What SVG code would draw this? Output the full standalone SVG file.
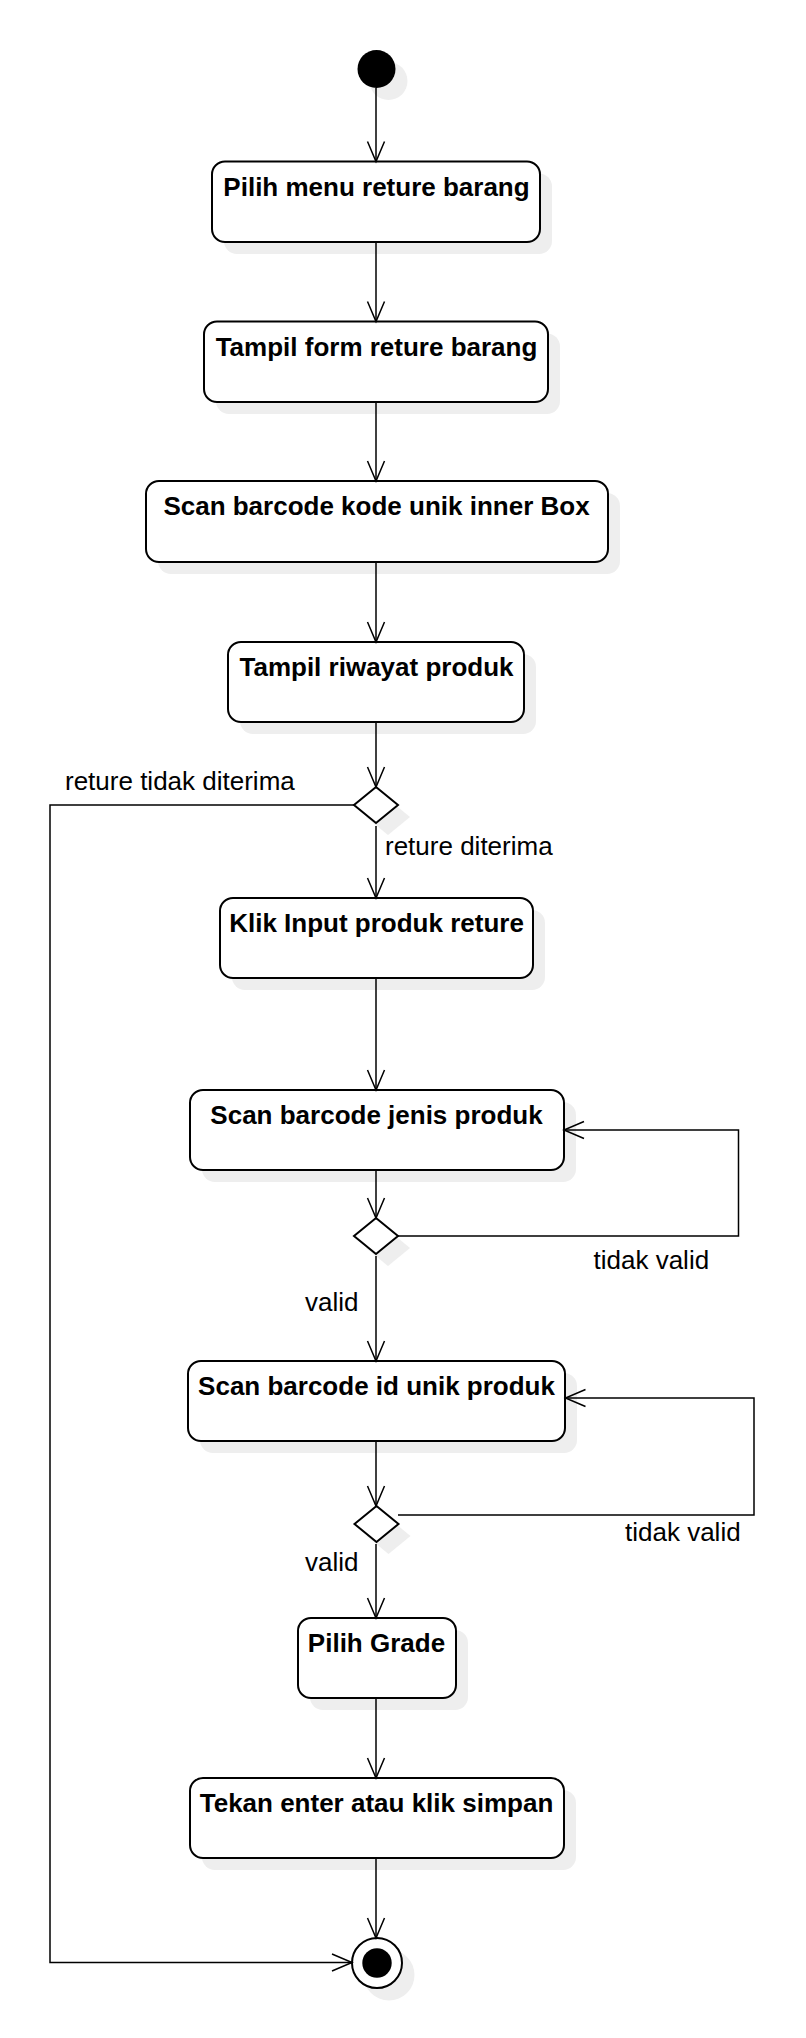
<svg xmlns="http://www.w3.org/2000/svg" width="806" height="2038" viewBox="0 0 806 2038">
<defs>
<style>
.bg{fill:#ffffff}
.sh{fill:#eeeeee;stroke:none}
.box{fill:#ffffff;stroke:#000000;stroke-width:2}
.dia{fill:#ffffff;stroke:#000000;stroke-width:2}
.lbl{font-family:"Liberation Sans",Arial,sans-serif;font-size:26px;font-weight:bold;fill:#000000;text-anchor:middle}
.elbl{font-family:"Liberation Sans",Arial,sans-serif;font-size:26px;fill:#000000}
.con{fill:none;stroke:#000000;stroke-width:1.5;marker-end:url(#arr)}
</style>
<marker id="arr" markerUnits="userSpaceOnUse" viewBox="-22 -11 24 22" refX="0" refY="0" markerWidth="24" markerHeight="22" orient="auto" overflow="visible">
<path d="M-20,-8.5 L0,0 L-20,8.5" fill="none" stroke="#000000" stroke-width="1.5"/>
</marker>
</defs>
<rect class="bg" x="0" y="0" width="806" height="2038"/>

<g id="start">
<circle class="sh" cx="388.5" cy="81" r="19"/>
<circle cx="376.5" cy="69" r="19" fill="#000000"/>
</g>

<g id="n1">
<rect class="sh" x="224" y="173.5" width="328" height="80.5" rx="13"/>
<rect class="box" x="212" y="161.5" width="328" height="80.5" rx="13"/>
<text class="lbl" x="376.5" y="195.5">Pilih menu reture barang</text>
</g>

<g id="n2">
<rect class="sh" x="216" y="333.5" width="344" height="80.5" rx="13"/>
<rect class="box" x="204" y="321.5" width="344" height="80.5" rx="13"/>
<text class="lbl" x="376.5" y="355.5">Tampil form reture barang</text>
</g>

<g id="n3">
<rect class="sh" x="158" y="493" width="462" height="81" rx="13"/>
<rect class="box" x="146" y="481" width="462" height="81" rx="13"/>
<text class="lbl" x="376.5" y="515">Scan barcode kode unik inner Box</text>
</g>

<g id="n4">
<rect class="sh" x="240" y="654" width="296" height="80" rx="13"/>
<rect class="box" x="228" y="642" width="296" height="80" rx="13"/>
<text class="lbl" x="376.5" y="676">Tampil riwayat produk</text>
</g>

<g id="d1">
<polygon class="sh" points="388,799 410,817 388,835 366,817"/>
<polygon class="dia" points="376,787 398,805 376,823 354,805"/>
</g>

<g id="n5">
<rect class="sh" x="232" y="910" width="313" height="80" rx="13"/>
<rect class="box" x="220" y="898" width="313" height="80" rx="13"/>
<text class="lbl" x="376.5" y="932">Klik Input produk reture</text>
</g>

<g id="n6">
<rect class="sh" x="202" y="1102" width="374" height="80" rx="13"/>
<rect class="box" x="190" y="1090" width="374" height="80" rx="13"/>
<text class="lbl" x="376.5" y="1124">Scan barcode jenis produk</text>
</g>

<g id="d2">
<polygon class="sh" points="388,1230 410,1248 388,1266 366,1248"/>
<polygon class="dia" points="376,1218 398,1236 376,1254 354,1236"/>
</g>

<g id="n7">
<rect class="sh" x="200" y="1373" width="377" height="80" rx="13"/>
<rect class="box" x="188" y="1361" width="377" height="80" rx="13"/>
<text class="lbl" x="376.5" y="1395">Scan barcode id unik produk</text>
</g>

<g id="d3">
<polygon class="sh" points="388.5,1518 410.5,1536 388.5,1554 366.5,1536"/>
<polygon class="dia" points="376.5,1506 398.5,1524 376.5,1542 354.5,1524"/>
</g>

<g id="n8">
<rect class="sh" x="310" y="1630" width="158" height="80" rx="13"/>
<rect class="box" x="298" y="1618" width="158" height="80" rx="13"/>
<text class="lbl" x="376.5" y="1652">Pilih Grade</text>
</g>

<g id="n9">
<rect class="sh" x="202" y="1790" width="374" height="80" rx="13"/>
<rect class="box" x="190" y="1778" width="374" height="80" rx="13"/>
<text class="lbl" x="376.5" y="1812">Tekan enter atau klik simpan</text>
</g>

<g id="end">
<circle class="sh" cx="389" cy="1975" r="25.5"/>
<circle cx="377" cy="1963" r="25" fill="#ffffff" stroke="#000000" stroke-width="2"/>
<circle cx="377" cy="1963" r="14.7" fill="#000000"/>
</g>

<g id="connectors">
<path class="con" d="M376,88 L376,161.5"/>
<path class="con" d="M376,242 L376,321.5"/>
<path class="con" d="M376,402 L376,481"/>
<path class="con" d="M376,562 L376,642"/>
<path class="con" d="M376,722 L376,787"/>
<path class="con" d="M376,826 L376,898"/>
<path class="con" d="M354,805 L50,805 L50,1962.5 L352,1962.5"/>
<path class="con" d="M376,978 L376,1090"/>
<path class="con" d="M376,1170 L376,1218"/>
<path class="con" d="M398,1236 L738.5,1236 L738.5,1130 L564,1130"/>
<path class="con" d="M376,1256 L376,1361"/>
<path class="con" d="M376,1441 L376,1506"/>
<path class="con" d="M398,1515 L754,1515 L754,1398 L565.5,1398"/>
<path class="con" d="M376,1544 L376,1618"/>
<path class="con" d="M376,1698 L376,1778"/>
<path class="con" d="M376,1858 L376,1938"/>
<text class="elbl" x="65" y="789.5">reture tidak diterima</text>
<text class="elbl" x="385" y="855">reture diterima</text>
<text class="elbl" x="593.5" y="1268.5">tidak valid</text>
<text class="elbl" x="305" y="1310.5">valid</text>
<text class="elbl" x="625" y="1541">tidak valid</text>
<text class="elbl" x="305" y="1571">valid</text>
</g>
</svg>
